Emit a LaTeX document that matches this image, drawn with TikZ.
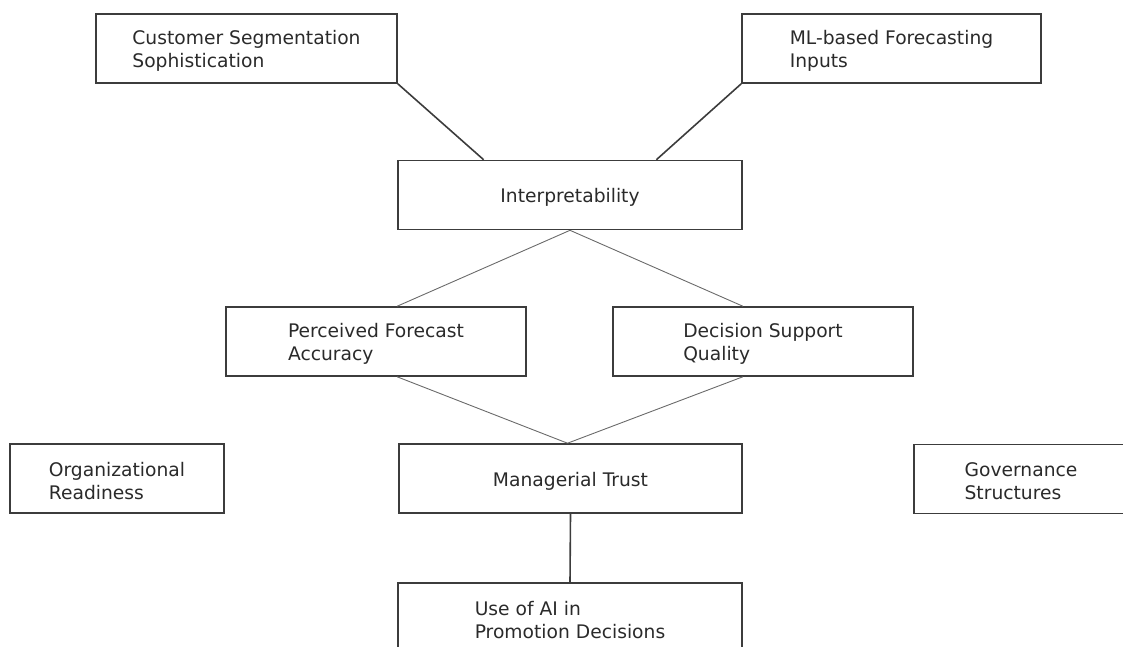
\documentclass[tikz,border=0pt]{standalone}
\usepackage{fontspec}
\setmainfont{DejaVu Sans}
\usetikzlibrary{calc}
\definecolor{boxline}{HTML}{3C3C3C}
\definecolor{txt}{HTML}{2A2A2A}
\definecolor{thin}{HTML}{6A6A6A}
\newcommand{\mytopstrut}{\rule{0pt}{19pt}}
\tikzset{
  box/.style={draw=boxline, line width=1.6pt, rectangle, align=left, text=txt,
    font=\fontsize{18.7}{22.8}\selectfont, inner sep=0pt, minimum height=69pt},
  conn/.style={draw=boxline, line width=1.6pt},
  thinconn/.style={draw=thin, line width=0.9pt}
}
\begin{document}
\begin{tikzpicture}[x=1pt,y=-1pt]
\useasboundingbox (0,0) rectangle (1123,646);
\clip (0,0) rectangle (1123,646);
\node[box, minimum width=301pt] (cust) at (246.5,48.5) {\mytopstrut Customer Segmentation\\Sophistication};
\node[box, minimum width=299pt] (ml) at (891.5,48.5) {\mytopstrut ML-based Forecasting\\Inputs};
\node[box, minimum width=344pt] (interp) at (570,195) {\mytopstrut Interpretability};
\node[box, minimum width=300pt] (perc) at (376,341.5) {\mytopstrut Perceived Forecast\\Accuracy};
\node[box, minimum width=300pt] (dec) at (763,341.5) {\mytopstrut Decision Support\\Quality};
\node[box, minimum width=214pt] (org) at (117,478.5) {\mytopstrut Organizational\\Readiness};
\node[box, minimum width=343pt] (mgr) at (570.5,478.5) {\mytopstrut Managerial Trust};
\node[box, minimum width=214pt] (gov) at (1021,479) {\mytopstrut Governance\\Structures};
\node[box, minimum width=344pt] (use) at (570,617.5) {\mytopstrut Use of AI in\\Promotion Decisions};
\draw[conn] (cust.south east) -- ($(interp.north west)!0.25!(interp.north east)$);
\draw[conn] (ml.south west) -- ($(interp.north west)!0.75!(interp.north east)$);
\draw[thinconn] (interp.south) -- (perc.north -| interp.west);
\draw[thinconn] (interp.south) -- (dec.north -| interp.east);
\draw[thinconn] (perc.south -| interp.west) -- ([xshift=-3pt]mgr.north);
\draw[thinconn] (dec.south -| interp.east) -- ([xshift=-3pt]mgr.north);
\draw[conn] (mgr.south) -- (use.north);
\end{tikzpicture}
\end{document}
